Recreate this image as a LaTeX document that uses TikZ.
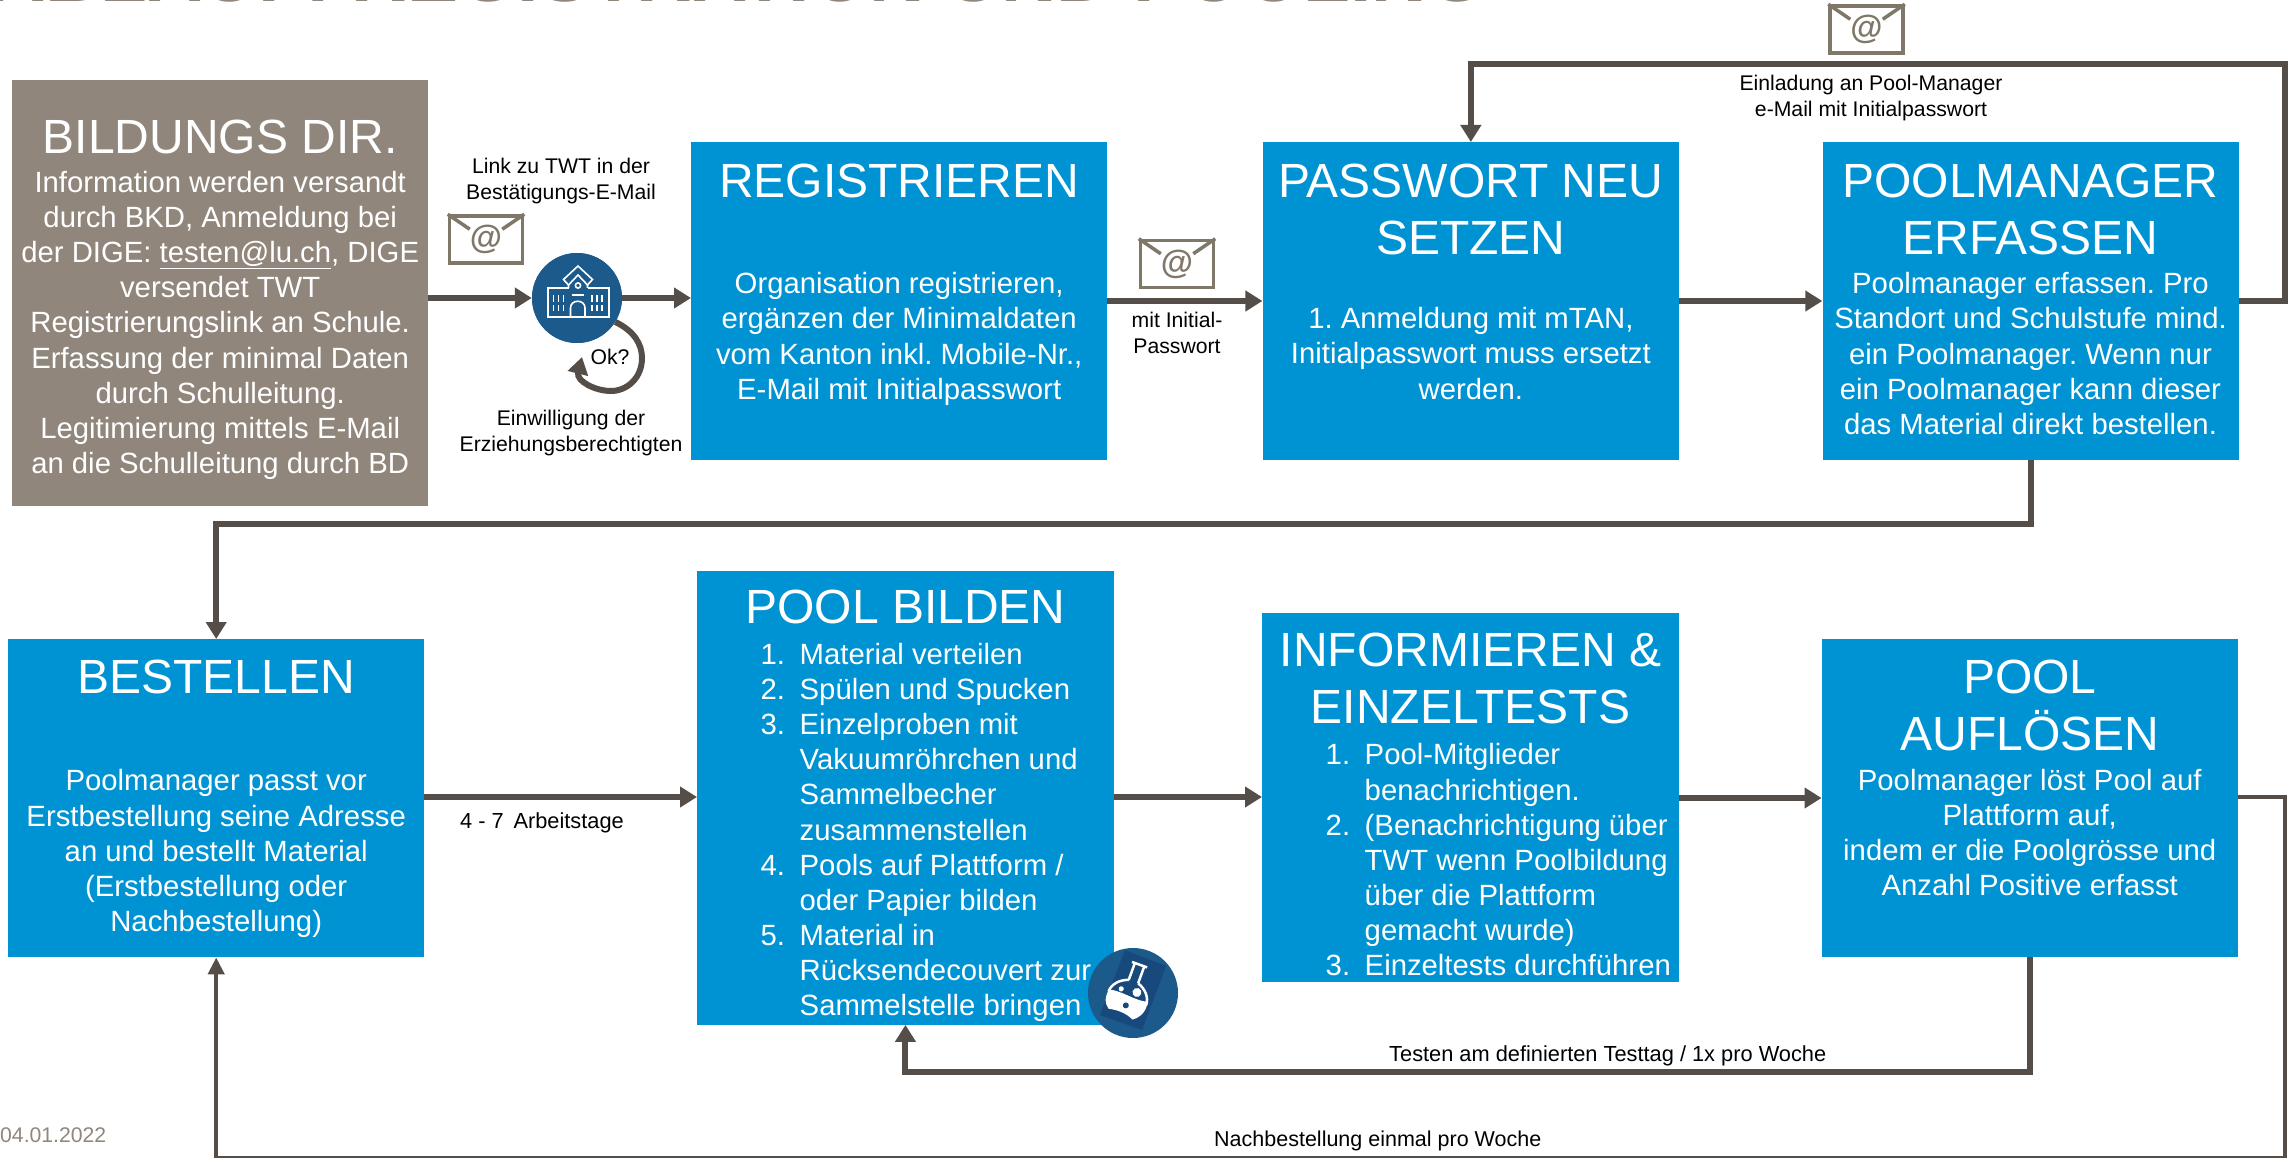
\documentclass[tikz,border=0pt]{standalone}
\usepackage{fontspec}
\setmainfont{Liberation Sans}
\usetikzlibrary{positioning, arrows.meta, calc}

\definecolor{stepblue}{HTML}{0093D3}
\definecolor{dirgrey}{HTML}{91867C}
\definecolor{flowdark}{HTML}{544D48}
\definecolor{mailgrey}{HTML}{7F7768}
\definecolor{iconblue}{HTML}{1C5A8C}
\definecolor{icondark}{HTML}{17497C}

\newcommand{\boxbody}[3]{\parbox[c][#2pt][t]{#1pt}{\centering\frenchspacing\fontsize{29.3}{35.15}\selectfont #3}}
\newcommand{\boxhead}[2]{{\fontsize{48}{57.5}\selectfont\rule{0pt}{#1pt}#2\par}}
\newcommand{\boxitem}[2]{{\leftskip=102.5pt \rightskip=0pt plus 1fil \noindent\hspace*{-39pt}\makebox[39pt][l]{#1}#2\par}}
\newcommand{\mailicon}[3]{%
    \node[mailbox] (#1) at (#2,#3) {@};
    \draw[mailflap] (#1.north west) -- ++(22,15);
    \draw[mailflap] (#1.north east) -- ++(-22,15);
}

\tikzset{
    stepbox/.style={fill=stepblue, text=white, inner sep=0pt, anchor=north west},
    dirbox/.style={fill=dirgrey, text=white, inner sep=0pt, anchor=north west},
    flow/.style={draw=flowdark, line width=6pt, -{Triangle[length=17pt, width=20pt]}},
    flowthin/.style={draw=flowdark, line width=4.5pt, -{Triangle[length=17pt, width=16pt]}},
    note/.style={font=\fontsize{21.2}{25.5}\selectfont, align=center, inner sep=0pt},
    mailbox/.style={draw=mailgrey, fill=white, line width=3.5pt, minimum width=73pt, minimum height=47pt, inner sep=0pt, text=mailgrey, font=\fontsize{33}{33}\selectfont\bfseries},
    mailflap/.style={draw=mailgrey, line width=3.5pt},
    iconcircle/.style={circle, fill=iconblue, minimum size=90pt, inner sep=0pt},
    iconline/.style={draw=white, line width=1.6pt},
}

\begin{document}
\begin{tikzpicture}[x=1pt, y=-1pt]
    \useasboundingbox (0,0) rectangle (2295,1158);
    \clip (0,0) rectangle (2295,1158);

    % Title
    \node[anchor=base west, inner sep=0pt, text=dirgrey, font=\fontsize{76.6}{77}\selectfont\bfseries] (pagetitle) at (-10,2) {ABLAUF: REGISTRATION UND POOLING};

    % Nodes
    \node[dirbox] (bildung) at (12,80) {\boxbody{416}{426}{\boxhead{73}{BILDUNGS DIR.}\vspace{4pt}
        Information werden versandt\\ durch BKD, Anmeldung bei\\ der DIGE: \underline{testen@lu.ch}, DIGE\\ versendet TWT\\ Registrierungslink an Schule.\\ Erfassung der minimal Daten\\ durch Schulleitung.\\ Legitimierung mittels E-Mail\\ an die Schulleitung durch BD}};
    \node[stepbox] (regist) at (691,142) {\boxbody{416}{318}{\boxhead{55}{REGISTRIEREN}\vspace{61.5pt}
        Organisation registrieren,\\ ergänzen der Minimaldaten\\ vom Kanton inkl. Mobile-Nr.,\\ E-Mail mit Initialpasswort}};
    \node[stepbox, right=155pt of regist.north east, anchor=north west] (passwort) {\boxbody{416.5}{318}{\boxhead{55}{PASSWORT NEU\\ SETZEN}\vspace{39pt}
        1. Anmeldung mit mTAN,\\ Initialpasswort muss ersetzt\\ werden.}};
    \node[stepbox, right=143pt of passwort.north east, anchor=north west] (manager) {\boxbody{416}{318}{\boxhead{55}{POOLMANAGER\\ ERFASSEN}\vspace{4pt}
        Poolmanager erfassen. Pro\\ Standort und Schulstufe mind.\\ ein Poolmanager. Wenn nur\\ ein Poolmanager kann dieser\\ das Material direkt bestellen.}};

    \node[stepbox] (bestellen) at (8,639) {\boxbody{416}{318}{\boxhead{54}{BESTELLEN}\vspace{62.5pt}
        Poolmanager passt vor\\ Erstbestellung seine Adresse\\ an und bestellt Material\\ (Erstbestellung oder\\ Nachbestellung)}};
    \node[stepbox] (pool) at (697,570.5) {\boxbody{416.5}{454}{\boxhead{52.5}{POOL BILDEN}\vspace{6pt}
        \boxitem{1.}{Material verteilen}
        \boxitem{2.}{Spülen und Spucken}
        \boxitem{3.}{Einzelproben mit\\ Vakuumröhrchen und\\ Sammelbecher\\ zusammenstellen}
        \boxitem{4.}{Pools auf Plattform /\\ oder Papier bilden}
        \boxitem{5.}{Material in\\ Rücksendecouvert zur\\ Sammelstelle bringen}}};
    \node[stepbox] (inform) at (1262,613) {\boxbody{416.5}{368.5}{\boxhead{53}{INFORMIEREN \&\\ EINZELTESTS}\vspace{6pt}
        \boxitem{1.}{Pool-Mitglieder\\ benachrichtigen.}
        \boxitem{2.}{(Benachrichtigung über\\ TWT wenn Poolbildung\\ über die Plattform\\ gemacht wurde)}
        \boxitem{3.}{Einzeltests durchführen}}};
    \node[stepbox] (aufloesen) at (1821.5,639) {\boxbody{416}{318}{\boxhead{54}{POOL\\ AUFLÖSEN}\vspace{4.5pt}
        Poolmanager löst Pool auf\\ Plattform auf,\\ indem er die Poolgrösse und\\ Anzahl Positive erfasst}};

    % Paths
    \coordinate (schoolpos) at (577,298);
    \node[iconcircle] (school) at (schoolpos) {};
    \coordinate (okend) at (582,357);
    \coordinate (turntop) at (2285,64);
    \coordinate (turnmid) at (1200,524);
    \coordinate (turntest) at (1500,1072);
    \coordinate (turnlow) at (2285,1158.5);

    \path (school -| bildung.east) edge[flow] (school);
    \path (school) edge[flow] (school -| regist.west);
    \path (regist.east |- 0,301) edge[flow] (passwort.west |- 0,301);
    \path (passwort.east |- 0,301) edge[flow] (manager.west |- 0,301);
    \draw[flow] (manager.east |- 0,301) -| (turntop) -| (passwort.north);
    \draw[flow] (manager.south) |- (turnmid) -| (bestellen.north);
    \path (bestellen.east |- 0,797) edge[flow] (pool.west |- 0,797);
    \path (pool.east |- 0,797) edge[flow] (inform.west |- 0,797);
    \path (inform.east |- 0,798) edge[flow] (aufloesen.west |- 0,798);
    \draw[flow] (aufloesen.south) |- (turntest) -| (pool.south);
    \draw[flowthin] (aufloesen.east |- 0,797) -| (turnlow) -| (bestellen.south);
    \draw[flow] (school.-32) .. controls (634,331) and (642,344) .. (642,358) .. controls (642,378) and (627,391) .. (611,391) .. controls (595,391) and (576,381) .. (okend);

    % Icons
    \mailicon{mailone}{486}{239.5}
    \mailicon{mailtwo}{1177}{264}
    \mailicon{mailthree}{1866.5}{29.5}

    \node[iconcircle] (school) at (schoolpos) {};
    \begin{scope}[shift={(schoolpos)}]
        \draw[iconline] (-8.5,-10) -- (-29.3,-10) -- (-29.3,19.3) -- (31.7,19.3) -- (31.7,-10) -- (10.5,-10);
        \draw[iconline] (-8.5,-10) -- (-8.5,-13) -- (-13.5,-18.5) -- (1,-32) -- (15.5,-18.5) -- (10.5,-13) -- (10.5,-10);
        \draw[iconline] (-8.5,-13) -- (1,-23) -- (10.5,-13);
        \draw[iconline] (1,-12.5) circle (2.6);
        \draw[iconline] (-5,-3) -- (7,-3);
        \draw[iconline] (-6.5,19.3) -- (-6.5,10) .. controls (-6.5,1) and (8,1) .. (8,10) -- (8,19.3);
        \foreach \xpos in {-23.5,-18.5,-13.5,15,20,25} {
            \draw[iconline] (\xpos,-3) -- (\xpos,4);
            \draw[iconline] (\xpos,7) -- (\xpos,13);
        }
    \end{scope}

    \node[iconcircle] (flask) at (1133,993) {};
    \begin{scope}[shift={(flask.center)}]
        \fill[icondark] (-8,-43) -- (33,-27) -- (9,37) -- (-33,22) -- cycle;
        \begin{scope}[shift={(-3,-2)}, rotate=-20]
            \draw[draw=white, line width=2.5pt] (-8,-28) -- (8,-28);
            \draw[draw=white, line width=2.5pt] (-5,-28) -- (-5,-10) (5,-28) -- (5,-10);
            \draw[draw=white, line width=2.5pt] (-5,-10) .. controls (-14,-7) and (-20,0) .. (-20,8) (5,-10) .. controls (14,-7) and (20,0) .. (20,8);
            \fill[white] (-20,6) .. controls (-10,2) and (10,8) .. (20,4) .. controls (23,14) and (18,22) .. (12,26) .. controls (4,22) and (-6,22) .. (-14,24) .. controls (-20,20) and (-22,14) .. (-20,6) -- cycle;
            \fill[white] (7,-1) circle (4.5);
            \fill[white] (-9,1) circle (2.6);
            \fill[icondark] (1,15) circle (3);
        \end{scope}
    \end{scope}

    % Labels
    \node[note] (linklabel) at (561,181) {Link zu TWT in der\\ Bestätigungs-E-Mail};
    \node[note, anchor=base] (oklabel) at (610,365) {Ok?};
    \node[note] (einwilligung) at (571,433) {Einwilligung der\\ Erziehungsberechtigten};
    \node[note] (initiallabel) at (1177,333) {mit Initial-\\ Passwort};
    \node[note] (einladung) at (1871,98) {Einladung an Pool-Manager\\ e-Mail mit Initialpasswort};
    \node[note, anchor=base west, font=\fontsize{21.8}{26}\selectfont] (arbeitstage) at (460,828) {4 - 7\, Arbeitstage};
    \node[note, anchor=base west, font=\fontsize{21.8}{26}\selectfont] (testtag) at (1389,1061) {Testen am definierten Testtag / 1x pro Woche};
    \node[note, anchor=base west, font=\fontsize{21.5}{26}\selectfont] (nachbest) at (1214,1146) {Nachbestellung einmal pro Woche};
    \node[note, anchor=base west, text=dirgrey] (datum) at (0,1142) {04.01.2022};
\end{tikzpicture}
\end{document}
